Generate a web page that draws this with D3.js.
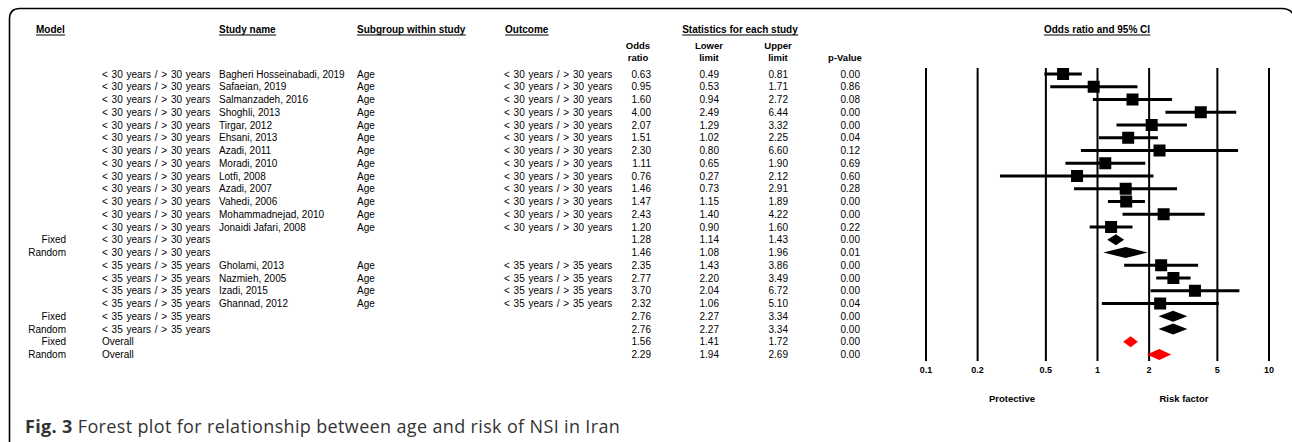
<!DOCTYPE html>
<html>
<head>
<meta charset="utf-8">
<title>Forest plot - age and NSI</title>
<style>
  body { margin: 0; background: #fff; }
  svg text { font-family: "Liberation Sans", Arial, sans-serif; }
</style>
</head>
<body>
<script src="https://cdn.jsdelivr.net/npm/d3@7"></script>
<script>
// ---- data ----
const models = ["", "", "", "", "", "", "", "", "", "", "", "", "", "Fixed", "Random",
  "", "", "", "", "Fixed", "Random", "Fixed", "Random"];
const groups = [
  "< 30 years / > 30 years", "< 30 years / > 30 years", "< 30 years / > 30 years",
  "< 30 years / > 30 years", "< 30 years / > 30 years", "< 30 years / > 30 years",
  "< 30 years / > 30 years", "< 30 years / > 30 years", "< 30 years / > 30 years",
  "< 30 years / > 30 years", "< 30 years / > 30 years", "< 30 years / > 30 years",
  "< 30 years / > 30 years", "< 30 years / > 30 years", "< 30 years / > 30 years",
  "< 35 years / > 35 years", "< 35 years / > 35 years", "< 35 years / > 35 years",
  "< 35 years / > 35 years", "< 35 years / > 35 years", "< 35 years / > 35 years",
  "Overall", "Overall"];
const studies = ["Bagheri Hosseinabadi, 2019", "Safaeian, 2019", "Salmanzadeh, 2016",
  "Shoghli, 2013", "Tirgar, 2012", "Ehsani, 2013", "Azadi, 2011", "Moradi, 2010",
  "Lotfi, 2008", "Azadi, 2007", "Vahedi, 2006", "Mohammadnejad, 2010",
  "Jonaidi Jafari, 2008", "", "", "Gholami, 2013", "Nazmieh, 2005", "Izadi, 2015",
  "Ghannad, 2012", "", "", "", ""];
const subgroups = studies.map(s => s ? "Age" : "");
const outcomes = groups.map((g, i) => studies[i] ? g : "");
const oddsRatio = [0.63, 0.95, 1.60, 4.00, 2.07, 1.51, 2.30, 1.11, 0.76, 1.46, 1.47, 2.43, 1.20,
  1.28, 1.46, 2.35, 2.77, 3.70, 2.32, 2.76, 2.76, 1.56, 2.29];
const lower = [0.49, 0.53, 0.94, 2.49, 1.29, 1.02, 0.80, 0.65, 0.27, 0.73, 1.15, 1.40, 0.90,
  1.14, 1.08, 1.43, 2.20, 2.04, 1.06, 2.27, 2.27, 1.41, 1.94];
const upper = [0.81, 1.71, 2.72, 6.44, 3.32, 2.25, 6.60, 1.90, 2.12, 2.91, 1.89, 4.22, 1.60,
  1.43, 1.96, 3.86, 3.49, 6.72, 5.10, 3.34, 3.34, 1.72, 2.69];
const pValue = [0.00, 0.86, 0.08, 0.00, 0.00, 0.04, 0.12, 0.69, 0.60, 0.28, 0.00, 0.00, 0.22,
  0.00, 0.01, 0.00, 0.00, 0.00, 0.04, 0.00, 0.00, 0.00, 0.00];
const ticks = [0.1, 0.2, 0.5, 1, 2, 5, 10];

const width = 1292, height = 442;
const rows = oddsRatio.map((d, i) => ({
  i, model: models[i], group: groups[i], study: studies[i], sub: subgroups[i],
  outcome: outcomes[i], or: d, lo: lower[i], hi: upper[i], p: pValue[i],
  summary: models[i] !== "", overall: groups[i] === "Overall"
}));

const svg = d3.select("body").append("svg")
  .attr("width", width).attr("height", height)
  .attr("viewBox", [0, 0, width, height]);

// frame with rounded top corners
svg.append("path")
  .attr("d", "M9.5,442 V19 Q9.5,8.5 20,8.5 H1282 Q1291,8.5 1294,16")
  .attr("fill", "none").attr("stroke", "#000").attr("stroke-width", 1.6);

const x = d3.scaleLog().domain([0.1, 10]).range([926, 1269]);
const y = d3.scalePoint().domain(rows.map(d => d.i)).range([74, 354.5]);

// headers, underlined
function header(tx, ty, label, anchor) {
  const t = svg.append("text").attr("x", tx).attr("y", ty)
    .attr("text-anchor", anchor || "start")
    .attr("dominant-baseline", "central")
    .attr("font-size", 10).attr("font-weight", "bold").text(label);
  const b = t.node().getBBox();
  svg.append("line").attr("x1", b.x).attr("x2", b.x + b.width)
    .attr("y1", ty + 6).attr("y2", ty + 6).attr("stroke", "#000").attr("stroke-width", 1);
}
header(36, 29, "Model");
header(219, 29, "Study name");
header(357, 29, "Subgroup within study");
header(505, 29, "Outcome");
header(740, 29, "Statistics for each study", "middle");
header(1097, 29, "Odds ratio and 95% CI", "middle");

const sub = svg.append("g").attr("font-size", 9.5).attr("font-weight", "bold")
  .attr("text-anchor", "middle").attr("dominant-baseline", "central");
[[638, "Odds", "ratio"], [709, "Lower", "limit"], [778, "Upper", "limit"], [845, "", "p-Value"]]
  .forEach(([cx, a, b]) => {
    if (a) sub.append("text").attr("x", cx).attr("y", 45).text(a);
    sub.append("text").attr("x", cx).attr("y", 57).text(b);
  });

// table body
const body = svg.append("g").attr("font-size", 10).attr("fill", "#000")
  .attr("dominant-baseline", "central");
const cols = [
  { key: "model", x: 66, anchor: "end" },
  { key: "group", x: 102, anchor: "start", ws: 1 },
  { key: "study", x: 219, anchor: "start" },
  { key: "sub", x: 357, anchor: "start" },
  { key: "outcome", x: 504, anchor: "start", ws: 1 },
  { key: "or", x: 651, anchor: "end", fmt: true },
  { key: "lo", x: 719, anchor: "end", fmt: true },
  { key: "hi", x: 788, anchor: "end", fmt: true },
  { key: "p", x: 860, anchor: "end", fmt: true }
];
cols.forEach(c => {
  body.append("g").attr("word-spacing", c.ws || 0)
    .selectAll("text").data(rows).join("text")
    .attr("x", c.x).attr("y", d => y(d.i)).attr("text-anchor", c.anchor)
    .text(d => c.fmt ? d3.format(".2f")(d[c.key]) : d[c.key]);
});

// grid lines at ticks
svg.append("g").selectAll("line").data(ticks).join("line")
  .attr("x1", d => x(d)).attr("x2", d => x(d))
  .attr("y1", 68).attr("y2", 361)
  .attr("stroke", "#000").attr("stroke-width", 2);

svg.append("g").attr("font-size", 9).attr("font-weight", "bold")
  .attr("text-anchor", "middle").attr("dominant-baseline", "central")
  .selectAll("text").data(ticks).join("text")
  .attr("x", d => x(d)).attr("y", 370).text(d => d);

svg.append("g").attr("font-size", 9.5).attr("font-weight", "bold")
  .attr("text-anchor", "middle").attr("dominant-baseline", "central")
  .selectAll("text").data([["Protective", 1012], ["Risk factor", 1184]]).join("text")
  .attr("x", d => d[1]).attr("y", 398).text(d => d[0]);

// study CIs and squares
const st = rows.filter(d => !d.summary);
svg.append("g").selectAll("line").data(st).join("line")
  .attr("x1", d => x(d.lo)).attr("x2", d => x(d.hi))
  .attr("y1", d => y(d.i)).attr("y2", d => y(d.i))
  .attr("stroke", "#000").attr("stroke-width", 3);
const sq = 12;
svg.append("g").selectAll("rect").data(st).join("rect")
  .attr("x", d => x(d.or) - sq / 2).attr("y", d => y(d.i) - sq / 2)
  .attr("width", sq).attr("height", sq).attr("fill", "#000");

// summary diamonds
const dh = 5.5;
svg.append("g").selectAll("path").data(rows.filter(d => d.summary)).join("path")
  .attr("d", d => {
    const c = y(d.i);
    return `M${x(d.lo)},${c} L${x(d.or)},${c - dh} L${x(d.hi)},${c} L${x(d.or)},${c + dh} Z`;
  })
  .attr("fill", d => d.overall ? "#f00" : "#000");

// caption
const cap = svg.append("text").attr("x", 25).attr("y", 433)
  .attr("font-size", 18).attr("fill", "#333").attr("letter-spacing", 0.35)
  .style("font-family", "'Open Sans', sans-serif");
cap.append("tspan").attr("font-weight", "bold").text("Fig. 3");
cap.append("tspan").text(" Forest plot for relationship between age and risk of NSI in Iran");
</script>
</body>
</html>
